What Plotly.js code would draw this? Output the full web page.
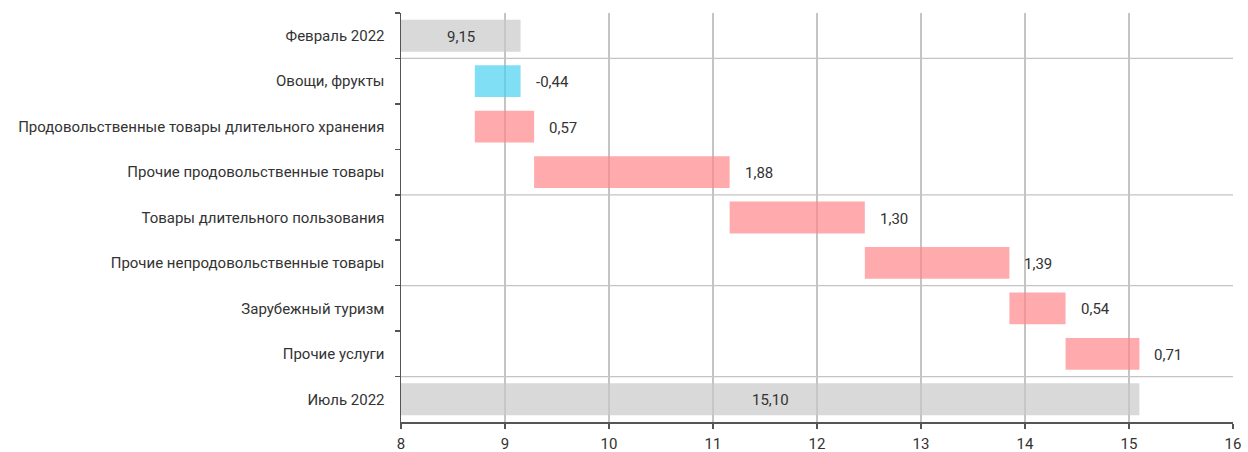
<!DOCTYPE html>
<html>
<head>
<meta charset="utf-8">
<script src="https://cdn.plot.ly/plotly-3.0.1.min.js"></script>
<style>html,body{margin:0;padding:0;background:#fff;}#chart{width:1248px;height:452px;}</style>
</head>
<body>
<div id="chart"></div>
<script>
// Categories (top to bottom)
const categories = [
  "Февраль 2022",
  "Овощи, фрукты",
  "Продовольственные товары длительного хранения",
  "Прочие продовольственные товары",
  "Товары длительного пользования",
  "Прочие непродовольственные товары",
  "Зарубежный туризм",
  "Прочие услуги",
  "Июль 2022"
];
// Contributions, p.p. (first and last are totals)
const values = [9.15, -0.44, 0.57, 1.88, 1.30, 1.39, 0.54, 0.71, 15.10];
const isTotal = [true, false, false, false, false, false, false, false, true];
// x-axis ticks
const xTicks = [8, 9, 10, 11, 12, 13, 14, 15, 16];
// horizontal grid lines drawn after these category indices
const hGridAfter = [0, 3, 5, 7];

const colTotal = "rgba(201,201,201,0.7)";
const colUp = "rgba(255,136,140,0.7)";
const colDown = "rgba(74,208,241,0.7)";

const xMin = xTicks[0], xMax = xTicks[xTicks.length - 1];

const bases = [], colors = [], ends = [];
let cum = 0;
values.forEach((v, i) => {
  if (isTotal[i]) {
    bases.push(0); colors.push(colTotal); cum = v; ends.push(v);
  } else {
    bases.push(cum); colors.push(v >= 0 ? colUp : colDown);
    const e = cum + v;
    ends.push(Math.max(cum, e));
    cum = e;
  }
});

const fmt = v => v.toFixed(2).replace('.', ',');
const FONT = 'Roboto, sans-serif';

const annotations = values.map((v, i) => {
  if (isTotal[i]) {
    return {x: (xMin + v) / 2, y: categories[i], xref: 'x', yref: 'y', text: fmt(v),
      showarrow: false, xanchor: 'center', yanchor: 'middle', yshift: -1,
      font: {family: FONT, size: 15, color: '#333'}};
  }
  return {x: ends[i], y: categories[i], xref: 'x', yref: 'y', text: fmt(v),
    showarrow: false, xanchor: 'left', yanchor: 'middle', xshift: 13, yshift: -1,
    font: {family: FONT, size: 15, color: '#333'}};
});

const shapes = hGridAfter.map(k => ({
  type: 'line', xref: 'paper', x0: 0, x1: 1, yref: 'y', y0: k + 0.5, y1: k + 0.5,
  line: {color: '#c4c4c4', width: 1.2}, layer: 'below'
}));

const trace = {
  type: 'bar', orientation: 'h',
  y: categories, x: values, base: bases,
  marker: {color: colors, line: {width: 0}},
  width: 0.7, hoverinfo: 'skip'
};

const layout = {
  width: 1248, height: 452,
  margin: {l: 401, r: 15, t: 13, b: 30},
  paper_bgcolor: '#fff', plot_bgcolor: '#fff',
  showlegend: false,
  font: {family: FONT, size: 15, color: '#333'},
  xaxis: {
    range: [xMin, xMax], tickvals: xTicks, ticktext: xTicks.map(String),
    showgrid: true, gridcolor: '#c4c4c4', gridwidth: 1.2,
    zeroline: false, showline: true, linecolor: '#555', linewidth: 1.5,
    ticks: 'outside', ticklen: 5, tickcolor: '#555', tickwidth: 1.5,
    ticklabelstandoff: 2,
    tickfont: {family: FONT, size: 15, color: '#333'}
  },
  yaxis: {
    type: 'category', autorange: 'reversed',
    showgrid: false, zeroline: false, showline: true, linecolor: '#555', linewidth: 1.5,
    ticks: 'outside', tickson: 'boundaries', ticklen: 5, tickcolor: '#555', tickwidth: 1.5,
    ticklabelstandoff: 12,
    tickfont: {family: FONT, size: 15, color: '#333'}
  },
  bargap: 0.3,
  annotations: annotations,
  shapes: shapes
};

Plotly.newPlot('chart', [trace], layout, {displayModeBar: false, staticPlot: true});
</script>
</body>
</html>
